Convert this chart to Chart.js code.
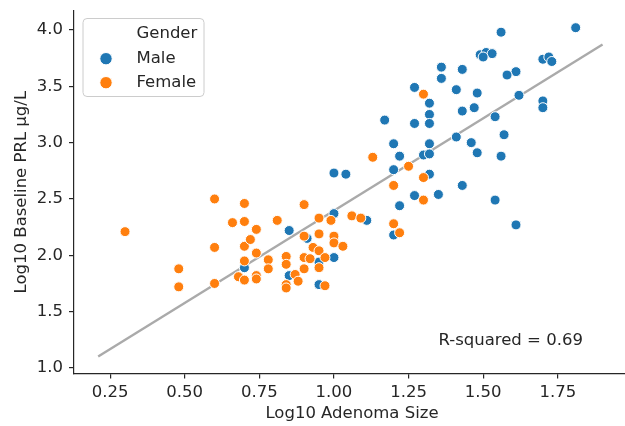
<!DOCTYPE html>
<html lang="en">
<head>
<meta charset="UTF-8">
<title>Adenoma size vs baseline PRL</title>
<script src="https://cdn.jsdelivr.net/npm/chart.js"></script>
<style>
    html, body {
        margin: 0;
        padding: 0;
        background: #fff;
        overflow: hidden;
    }
    #frame {
        width: 625px;
        height: 426px;
        overflow: hidden;
    }
    #prlChart {
        display: block;
    }
</style>
</head>
<body>

<div id="frame">
    <canvas id="prlChart" width="636" height="426"></canvas>
</div>

<script>
    // Log10 adenoma size (x) and log10 baseline PRL (y)
    const maleSize = [0.70, 1.00, 1.04, 1.32, 1.27, 1.35, 1.22, 1.00, 1.11, 1.20,
        0.85, 0.91, 0.95, 1.00, 0.85, 0.95, 1.81, 1.56, 1.49, 1.51,
        1.53, 1.50, 1.70, 1.72, 1.73, 1.36, 1.43, 1.36, 1.61, 1.58,
        1.27, 1.41, 1.48, 1.62, 1.32, 1.70, 1.70, 1.47, 1.43, 1.32,
        1.54, 1.17, 1.27, 1.32, 1.57, 1.41, 1.20, 1.32, 1.46, 1.22,
        1.30, 1.32, 1.48, 1.56, 1.20, 1.43, 1.54, 1.61];
    const malePrl = [1.89, 2.73, 2.72, 2.72, 2.53, 2.54, 2.44, 2.37, 2.31, 2.18,
        2.22, 2.15, 1.94, 1.98, 1.82, 1.74, 4.02, 3.98, 3.78, 3.80,
        3.79, 3.76, 3.74, 3.76, 3.72, 3.67, 3.65, 3.57, 3.63, 3.60,
        3.49, 3.47, 3.44, 3.42, 3.35, 3.37, 3.31, 3.31, 3.28, 3.25,
        3.23, 3.20, 3.17, 3.17, 3.07, 3.05, 2.99, 2.99, 3.00, 2.88,
        2.89, 2.90, 2.91, 2.88, 2.76, 2.62, 2.49, 2.27];

    const femaleSize = [0.30, 0.48, 0.48, 0.60, 0.60, 0.60, 0.66, 0.70, 0.70, 0.70,
        0.70, 0.68, 0.70, 0.72, 0.74, 0.74, 0.74, 0.74, 0.78, 0.78,
        0.81, 1.20, 1.30, 1.30, 0.90, 0.95, 0.99, 1.06, 1.09, 1.20,
        1.22, 0.90, 0.95, 1.00, 1.00, 1.03, 0.93, 0.95, 0.84, 0.84,
        0.90, 0.92, 0.97, 0.95, 0.90, 0.87, 0.88, 0.84, 0.84, 0.97,
        1.30, 1.25, 1.13];
    const femalePrl = [2.21, 1.88, 1.72, 2.50, 2.07, 1.75, 2.29, 2.46, 2.30, 2.08,
        1.95, 1.81, 1.78, 2.14, 2.23, 2.02, 1.82, 1.79, 1.96, 1.88,
        2.31, 2.62, 2.69, 2.49, 2.45, 2.33, 2.31, 2.35, 2.33, 2.28,
        2.20, 2.17, 2.19, 2.17, 2.11, 2.08, 2.07, 2.04, 1.99, 1.92,
        1.98, 1.97, 1.98, 1.89, 1.88, 1.83, 1.77, 1.74, 1.71, 1.73,
        3.43, 2.79, 2.87];

    const xTicks = [0.25, 0.50, 0.75, 1.00, 1.25, 1.50, 1.75];
    const yTicks = [1.0, 1.5, 2.0, 2.5, 3.0, 3.5, 4.0];
    const fitRange = [0.21, 1.90];
    const rSquaredLabel = 'R-squared = 0.69';
    const rSquaredAt = [1.35, 1.2];

    const FONT = '"DejaVu Sans", sans-serif';
    const INK = '#262626';

    // least squares line over both groups
    const allX = maleSize.concat(femaleSize);
    const allY = malePrl.concat(femalePrl);
    const meanX = allX.reduce((a, b) => a + b, 0) / allX.length;
    const meanY = allY.reduce((a, b) => a + b, 0) / allY.length;
    let sxy = 0, sxx = 0;
    allX.forEach((x, i) => {
        sxy += (x - meanX) * (allY[i] - meanY);
        sxx += (x - meanX) * (x - meanX);
    });
    const slope = sxy / sxx;
    const intercept = meanY - slope * meanX;

    const toPoints = (xs, ys) => xs.map((x, i) => ({ x: x, y: ys[i] }));

    // keep the plot box where it is: no extra room for edge labels
    const noEdgePadding = axis => {
        axis.paddingTop = 0;
        axis.paddingBottom = 0;
        axis.paddingLeft = 0;
        axis.paddingRight = 0;
    };

    const legendBox = {
        id: 'legendBox',
        afterDraw(chart) {
            const ctx = chart.ctx;
            ctx.save();
            ctx.beginPath();
            ctx.roundRect(83, 18.5, 121, 78, 4);
            ctx.fillStyle = 'rgba(255,255,255,0.8)';
            ctx.fill();
            ctx.strokeStyle = '#cccccc';
            ctx.lineWidth = 1;
            ctx.stroke();

            ctx.font = '16.5px ' + FONT;
            ctx.fillStyle = INK;
            ctx.textBaseline = 'alphabetic';
            ctx.textAlign = 'left';
            ctx.fillText('Gender', 136.5, 37.7);

            const rows = [chart.data.datasets[1], chart.data.datasets[0]];
            rows.forEach((ds, i) => {
                const cy = 58.7 + i * 24;
                ctx.beginPath();
                ctx.arc(106, cy, 6.2, 0, Math.PI * 2);
                ctx.fillStyle = ds.backgroundColor;
                ctx.fill();
                ctx.strokeStyle = '#ffffff';
                ctx.lineWidth = 1;
                ctx.stroke();
                ctx.fillStyle = INK;
                ctx.fillText(ds.label, 136.5, cy + 4);
            });
            ctx.restore();
        }
    };

    const rSquaredNote = {
        id: 'rSquaredNote',
        afterDatasetsDraw(chart) {
            const ctx = chart.ctx;
            const px = chart.scales.x.getPixelForValue(rSquaredAt[0]);
            const py = chart.scales.y.getPixelForValue(rSquaredAt[1]);
            ctx.save();
            ctx.font = '16.5px ' + FONT;
            ctx.fillStyle = INK;
            ctx.textAlign = 'left';
            ctx.textBaseline = 'alphabetic';
            ctx.fillText(rSquaredLabel, px, py);
            ctx.restore();
        }
    };

    const ctx = document.getElementById('prlChart').getContext('2d');

    const prlChart = new Chart(ctx, {
        type: 'scatter',
        data: {
            datasets: [
                {
                    label: 'Female',
                    data: toPoints(femaleSize, femalePrl),
                    backgroundColor: '#ff7f0e',
                    borderColor: '#ffffff',
                    borderWidth: 1,
                    pointRadius: 5,
                    pointHoverRadius: 5,
                    order: 0
                },
                {
                    label: 'Male',
                    data: toPoints(maleSize, malePrl),
                    backgroundColor: '#1f77b4',
                    borderColor: '#ffffff',
                    borderWidth: 1,
                    pointRadius: 5,
                    pointHoverRadius: 5,
                    order: 1
                },
                {
                    type: 'line',
                    label: 'Fit',
                    data: fitRange.map(x => ({ x: x, y: intercept + slope * x })),
                    borderColor: '#aaaaaa',
                    borderWidth: 2.4,
                    pointRadius: 0,
                    fill: false,
                    order: 2
                }
            ]
        },
        options: {
            responsive: false,
            devicePixelRatio: 1,
            animation: false,
            events: [],
            layout: {
                padding: { top: 10.8, right: 0, bottom: 0, left: 0 }
            },
            plugins: {
                legend: { display: false },
                tooltip: { enabled: false }
            },
            scales: {
                x: {
                    type: 'linear',
                    position: 'bottom',
                    min: 0.129,
                    max: 1.992,
                    afterBuildTicks: axis => { axis.ticks = xTicks.map(v => ({ value: v })); },
                    afterFit: axis => { axis.height = 52.5; noEdgePadding(axis); },
                    grid: {
                        drawOnChartArea: false,
                        drawTicks: true,
                        tickLength: 5,
                        color: INK,
                        lineWidth: 1.2
                    },
                    border: { color: INK, width: 1.2 },
                    ticks: {
                        color: INK,
                        font: { family: FONT, size: 16.5 },
                        padding: 4,
                        maxRotation: 0,
                        callback: v => v.toFixed(2)
                    },
                    title: {
                        display: true,
                        text: 'Log10 Adenoma Size',
                        color: INK,
                        font: { family: FONT, size: 16.5 },
                        padding: { top: 0, bottom: 2 }
                    }
                },
                y: {
                    type: 'linear',
                    min: 0.951,
                    max: 4.17,
                    afterBuildTicks: axis => { axis.ticks = yTicks.map(v => ({ value: v })); },
                    afterFit: axis => { axis.width = 74; noEdgePadding(axis); },
                    grid: {
                        drawOnChartArea: false,
                        drawTicks: true,
                        tickLength: 5,
                        color: INK,
                        lineWidth: 1.2
                    },
                    border: { color: INK, width: 1.2 },
                    ticks: {
                        color: INK,
                        font: { family: FONT, size: 16.5 },
                        padding: 6,
                        callback: v => v.toFixed(1)
                    },
                    title: {
                        display: true,
                        text: 'Log10 Baseline PRL µg/L',
                        color: INK,
                        font: { family: FONT, size: 16.5 },
                        padding: { top: 11.4, bottom: 0 }
                    }
                }
            }
        },
        plugins: [rSquaredNote, legendBox]
    });
</script>

</body>
</html>
